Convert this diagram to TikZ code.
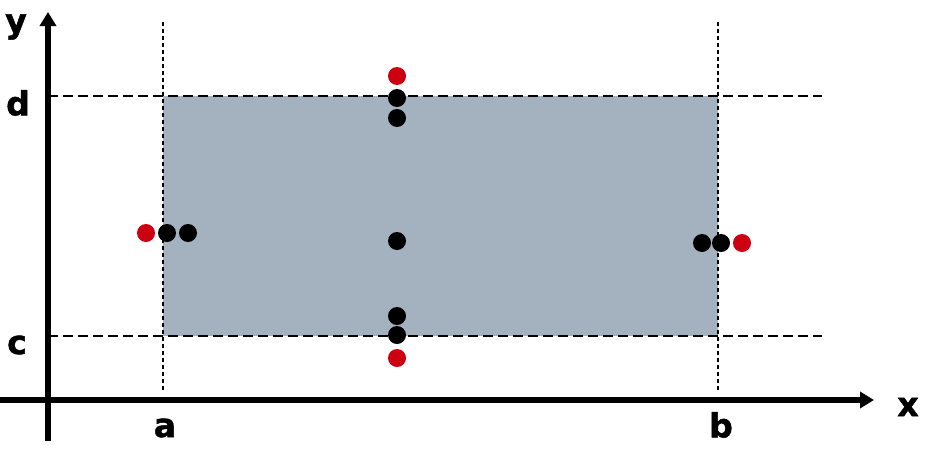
\documentclass[tikz,border=0pt]{standalone}
\usepackage{fontspec}
\setmainfont{DejaVu Sans}
\newfontfamily\lblfont[FakeBold=1.5]{DejaVu Sans Bold}
\usetikzlibrary{arrows.meta}
\definecolor{regionfill}{HTML}{A4B2C0}
\definecolor{dotred}{HTML}{CC0011}
\begin{document}
\begin{tikzpicture}[x=1pt,y=-1pt,
  axis/.style={line width=5.5pt,-{Triangle[length=14pt,width=16pt]}},
  hline/.style={line width=2.6pt,dash pattern=on 10pt off 5pt},
  vline/.style={line width=1.2pt,dash pattern=on 4pt off 3pt},
  lbl/.style={font=\fontsize{33}{36}\lblfont,inner sep=0pt},
  bdot/.style={circle,fill=black,minimum size=18pt,inner sep=0pt},
  rdot/.style={circle,fill=dotred,minimum size=18pt,inner sep=0pt}]
\useasboundingbox (0,0) rectangle (928,450);
\fill[regionfill] (163,96) rectangle (718,336);
\coordinate (dl) at (48,96); \coordinate (dr) at (822,96);
\coordinate (cl) at (48,336); \coordinate (cr) at (822,336);
\coordinate (at) at (163,22); \coordinate (ab) at (163,392);
\coordinate (bt) at (718,22); \coordinate (bb) at (718,392);
\draw[hline] (dl) -- (dr);
\draw[hline] (cl) -- (cr);
\draw[vline] (at) -- (ab);
\draw[vline] (bt) -- (bb);
\coordinate (xs) at (0,400); \coordinate (xe) at (874,400);
\coordinate (ys) at (48,441); \coordinate (ye) at (48,12);
\draw[axis] (xs) -- (xe);
\draw[axis] (ys) -- (ye);
\node[lbl] (ly) at (16,27) {y};
\node[lbl] (lx) at (908,407) {x};
\node[lbl] (ld) at (18,103) {d};
\node[lbl] (lc) at (17,345) {c};
\node[lbl] (la) at (165,428) {a};
\node[lbl] (lb) at (721,425) {b};
\node[rdot] (l1) at (146,233) {};
\node[bdot] (l2) at (167,233) {};
\node[bdot] (l3) at (188,233) {};
\node[rdot] (m1) at (397,76) {};
\node[bdot] (m2) at (397,98) {};
\node[bdot] (m3) at (397,118) {};
\node[bdot] (m4) at (397,241) {};
\node[bdot] (m5) at (397,316) {};
\node[bdot] (m6) at (397,335) {};
\node[rdot] (m7) at (397,358) {};
\node[bdot] (r1) at (702,243) {};
\node[bdot] (r2) at (721,243) {};
\node[rdot] (r3) at (742,243) {};
\end{tikzpicture}
\end{document}
